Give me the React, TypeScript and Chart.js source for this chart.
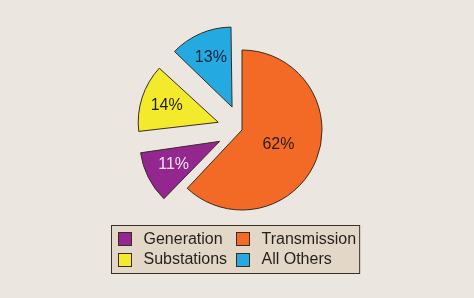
import React, { useEffect, useRef } from "react";
import { Chart, registerables } from "chart.js";

Chart.register(...registerables);

const categories = ["Transmission", "Generation", "Substations", "All Others"];
const values = [62, 11, 14, 13];
const valueLabels = ["62%", "11%", "14%", "13%"];
const colors = ["#f26a25", "#93278f", "#f2ea2a", "#24a9e1"];
const labelColors = ["#2b1a12", "#f4e6f2", "#1f1f10", "#10243a"];
const explode = [0, 100, 100, 100];
const legendOrder = ["Generation", "Transmission", "Substations", "All Others"];

const FONT = "16px 'Liberation Sans', Arial, Helvetica, sans-serif";
const BORDER = "#3b2a22";

const radiusFix = {
  id: "radiusFix",
  afterDatasetsUpdate(chart: any) {
    const meta = chart.getDatasetMeta(0);
    meta.data.forEach((el: any) => {
      const off = (el.options?.offset || 0) / 4;
      const circ = el.endAngle - el.startAngle;
      const fix = 1 - Math.sin(Math.min(Math.PI, circ));
      el.outerRadius = el.outerRadius - off * fix;
    });
  },
};

const sliceLabels = {
  id: "sliceLabels",
  afterDatasetsDraw(chart: any) {
    const ctx = chart.ctx;
    const meta = chart.getDatasetMeta(0);
    ctx.save();
    ctx.font = FONT;
    ctx.textAlign = "center";
    ctx.textBaseline = "middle";
    meta.data.forEach((el: any, i: number) => {
      const mid = (el.startAngle + el.endAngle) / 2;
      const off = (el.options?.offset || 0) / 4;
      const cx = el.x + Math.cos(mid) * off;
      const cy = el.y + Math.sin(mid) * off;
      const frac = i === 0 ? 0.49 : 0.73;
      const r = el.outerRadius * frac;
      ctx.fillStyle = labelColors[i];
      ctx.fillText(valueLabels[i], cx + Math.cos(mid) * r, cy + Math.sin(mid) * r);
    });
    ctx.restore();
  },
};

const gridLegend = {
  id: "gridLegend",
  afterDraw(chart: any) {
    const ctx = chart.ctx;
    ctx.save();
    ctx.font = FONT;
    const col1 = [legendOrder[0], legendOrder[2]];
    const col2 = [legendOrder[1], legendOrder[3]];
    const w1 = Math.max(...col1.map((t) => ctx.measureText(t).width));
    const w2 = Math.max(...col2.map((t) => ctx.measureText(t).width));
    const pad = 6, sw = 13, gap = 12, colGap = 10, padR = 4;
    const boxW = pad + sw + gap + w1 + colGap + sw + gap + w2 + padR;
    const boxH = 48;
    const boxX = Math.round(chart.width / 2 - boxW / 2 - 2) + 0.5;
    const boxY = 225.5;
    ctx.fillStyle = "#e3d7c7";
    ctx.fillRect(boxX, boxY, boxW, boxH);
    ctx.strokeStyle = "#3b2f2a";
    ctx.lineWidth = 1;
    ctx.strokeRect(boxX, boxY, boxW, boxH);
    const rowY = [boxY + 13, boxY + 33.5];
    const colX = [boxX + pad, boxX + pad + sw + gap + w1 + colGap];
    legendOrder.forEach((name, k) => {
      const c = k % 2;
      const r = Math.floor(k / 2);
      const idx = categories.indexOf(name);
      const x = Math.round(colX[c]) + 0.5;
      const y = Math.round(rowY[r] - sw / 2) + 0.5;
      ctx.fillStyle = colors[idx];
      ctx.fillRect(x, y, sw, sw);
      ctx.strokeStyle = BORDER;
      ctx.strokeRect(x, y, sw, sw);
      ctx.fillStyle = "#231f1c";
      ctx.textAlign = "left";
      ctx.textBaseline = "middle";
      ctx.fillText(name, x + sw + gap, rowY[r] + 1);
    });
    ctx.restore();
  },
};

export default function App() {
  const ref = useRef<HTMLCanvasElement>(null);
  useEffect(() => {
    const chart = new Chart(ref.current!, {
      type: "pie",
      data: {
        labels: categories,
        datasets: [
          {
            data: values,
            backgroundColor: colors,
            borderColor: BORDER,
            borderWidth: 1,
            offset: explode,
            hoverOffset: 0,
            radius: 80,
          } as any,
        ],
      },
      options: {
        responsive: false,
        animation: false,
        layout: { padding: { left: 10, right: 0, top: 0, bottom: 38 } },
        plugins: {
          legend: { display: false },
          tooltip: { enabled: false },
          title: { display: false },
        },
        events: [],
      },
      plugins: [radiusFix, sliceLabels, gridLegend],
    });
    return () => chart.destroy();
  }, []);
  return (
    <div style={{ position: "fixed", left: 0, top: 0, width: 474, height: 298, background: "#ebe7e0" }}>
      <canvas ref={ref} width={474} height={298} style={{ display: "block" }} />
    </div>
  );
}
